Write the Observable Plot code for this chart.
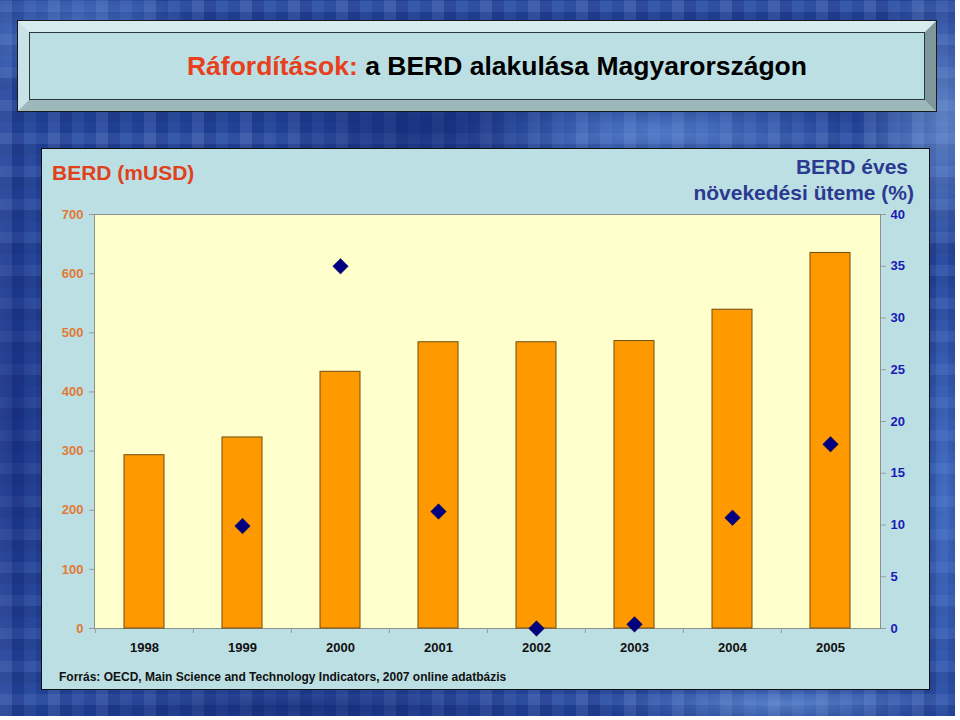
<!DOCTYPE html>
<html>
<head>
<meta charset="utf-8">
<script src="https://cdn.jsdelivr.net/npm/d3@7"></script>
<script src="https://cdn.jsdelivr.net/npm/@observablehq/plot@0.6"></script>
<style>
  html, body { margin: 0; padding: 0; background: #ffffff; }
  body { width: 960px; height: 720px; position: relative; overflow: hidden; font-family: "Liberation Sans", Arial, sans-serif; }
  #bg {
    position: absolute; left: 0; top: 0; width: 955px; height: 716px;
    background-color: #2548a0;
    background-image:
      radial-gradient(ellipse 120px 60px at 80px 40px, rgba(110,160,235,0.55), transparent),
      radial-gradient(ellipse 160px 50px at 420px 130px, rgba(15,35,110,0.6), transparent),
      radial-gradient(ellipse 90px 140px at 945px 120px, rgba(160,200,250,0.45), transparent),
      radial-gradient(ellipse 200px 40px at 660px 130px, rgba(120,170,240,0.5), transparent),
      radial-gradient(ellipse 40px 300px at 15px 420px, rgba(20,40,120,0.6), transparent),
      radial-gradient(ellipse 30px 260px at 945px 500px, rgba(90,140,225,0.55), transparent),
      radial-gradient(ellipse 260px 25px at 300px 705px, rgba(15,35,110,0.55), transparent),
      radial-gradient(ellipse 180px 25px at 780px 705px, rgba(130,180,245,0.5), transparent),
      repeating-linear-gradient(90deg, rgba(255,255,255,0.07) 0 12px, rgba(0,0,40,0.10) 12px 24px, rgba(255,255,255,0.03) 24px 36px, rgba(0,0,50,0.06) 36px 48px),
      repeating-linear-gradient(0deg, rgba(0,0,40,0.10) 0 11px, rgba(255,255,255,0.06) 11px 22px, rgba(0,0,60,0.04) 22px 33px);
  }
  #titlebox {
    position: absolute; left: 18px; top: 21px; width: 896px; height: 68px;
    background: #bcdfe3;
    border-style: solid; border-width: 11px;
    border-color: #d6ecef #7e979a #9db8bb #c8e2e6;
    outline: 1px solid #1a1a1a;
    box-shadow: inset 0 0 0 1px #2a3a3c;
  }
  #title {
    position: absolute; left: 0; top: 0; width: 100%; height: 100%;
    display: flex; align-items: center; justify-content: center; box-sizing: border-box; padding-left: 40px;
    font-weight: bold; font-size: 26.5px; color: #000;
  }
  #title .red { color: #e8401c; }
  #panel {
    position: absolute; left: 41px; top: 148px; width: 887px; height: 540px;
    background: #bcdfe3; border: 1px solid #111;
  }
  #chart { position: absolute; left: 0; top: 0; }
  #lefttitle {
    position: absolute; left: 10px; top: 12px; font-size: 21px; font-weight: bold; color: #e0401c;
  }
  #righttitle {
    position: absolute; right: 15px; top: 5px; font-size: 21px; font-weight: bold; color: #2b3990;
    text-align: right; line-height: 26px;
  }
  #righttitle .l1 { padding-right: 6px; }
  #source {
    position: absolute; left: 17px; top: 521px; font-size: 12px; font-weight: bold; color: #111;
  }
</style>
</head>
<body>
<div id="bg"></div>
<div id="titlebox"><div id="title"><span><span class="red">Ráfordítások:</span> a BERD alakulása Magyarországon</span></div></div>
<div id="panel">
  <div id="chart"></div>
  <div id="lefttitle">BERD (mUSD)</div>
  <div id="righttitle"><span class="l1">BERD éves</span><br>növekedési üteme (%)</div>
  <div id="source">Forrás: OECD, Main Science and Technology Indicators, 2007 online adatbázis</div>
</div>
<script>
// ---- data ----
const years = ["1998", "1999", "2000", "2001", "2002", "2003", "2004", "2005"];
const berd = [293, 323, 434, 484, 484, 486, 539, 635];          // BERD, million USD
const growth = [null, 9.9, 35.0, 11.3, 0.0, 0.4, 10.7, 17.8];  // annual growth, %
const leftTicks = [0, 100, 200, 300, 400, 500, 600, 700];
const rightTicks = [0, 5, 10, 15, 20, 25, 30, 35, 40];

const leftMax = 700, rightMax = 40;
const k = leftMax / rightMax;

const barData = years.map((y, i) => ({year: y, value: berd[i]}));
const growthData = years.map((y, i) => ({year: y, value: growth[i]})).filter(d => d.value != null);

const W = 887, H = 540, ML = 52, MR = 49, MT = 65, MB = 61;
const step = (W - ML - MR) / years.length;

const chart = Plot.plot({
  width: W, height: H,
  marginLeft: ML, marginRight: MR, marginTop: MT, marginBottom: MB,
  style: {background: "transparent", fontFamily: "'Liberation Sans', Arial, sans-serif", overflow: "visible"},
  x: {type: "band", domain: years, paddingInner: 0.59, paddingOuter: 0.295, axis: null},
  y: {domain: [0, leftMax], axis: null},
  marks: [
    Plot.frame({fill: "#ffffcc", stroke: "#8e8e8e"}),
    Plot.barY(barData, {x: "year", y: "value", fill: "#ff9900", stroke: "#6e4c12", strokeWidth: 1}),
    Plot.dot(growthData, {x: "year", y: d => d.value * k, symbol: "diamond2", r: 7, fill: "#000080", stroke: "#000050", strokeWidth: 0.5}),
    Plot.axisY({anchor: "left", ticks: leftTicks, tickSize: 5, tickPadding: 6, stroke: "#9a9a9a", fill: "#e07a36",
      fontSize: 13, fontWeight: "bold", label: null}),
    Plot.axisY({anchor: "right", ticks: rightTicks.map(v => v * k), tickFormat: v => String(Math.round(v / k)),
      tickSize: 5, tickPadding: 5, stroke: "#9a9a9a", fill: "#1a1ab4", fontSize: 13, fontWeight: "bold", label: null}),
    Plot.axisX({ticks: years, tickSize: 5, tickFormat: () => "", dx: -step / 2, stroke: "#9a9a9a", label: null}),
    Plot.axisX({ticks: years, tickSize: 0, tickPadding: 14, fill: "#111", fontSize: 13, fontWeight: "bold", label: null})
  ]
});
document.getElementById("chart").appendChild(chart);
</script>
</body>
</html>
